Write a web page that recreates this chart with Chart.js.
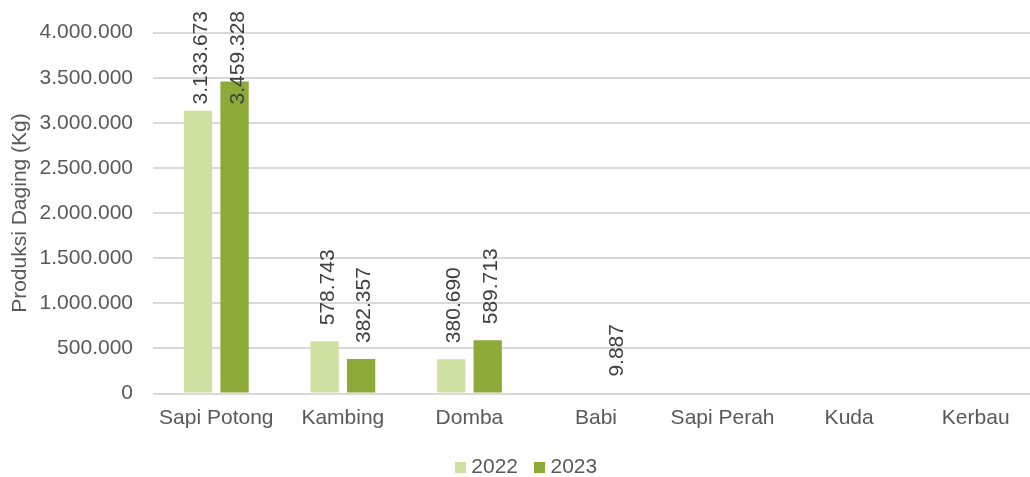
<!DOCTYPE html>
<html>
<head>
<meta charset="utf-8">
<script src="https://cdn.jsdelivr.net/npm/chart.js@4"></script>
<style>
  html, body { margin: 0; padding: 0; background: #ffffff; overflow: hidden; width: 1030px; height: 477px; }
  #wrap { position: absolute; left: 0; top: 0; width: 1055px; height: 488px; }
</style>
</head>
<body>
<div id="wrap"><canvas id="c" width="1055" height="488" style="width:1055px;height:488px"></canvas></div>
<script>
const categories = ['Sapi Potong', 'Kambing', 'Domba', 'Babi', 'Sapi Perah', 'Kuda', 'Kerbau'];
const seriesNames = ['2022', '2023'];
const values2022 = [3133673, 578743, 380690, null, null, null, null];
const values2023 = [3459328, 382357, 589713, 9887, null, null, null];
const yTicks = [0, 500000, 1000000, 1500000, 2000000, 2500000, 3000000, 3500000, 4000000];
const yTitle = 'Produksi Daging (Kg)';

const FONT = '"Liberation Sans", Arial, sans-serif';
const colors = ['#CFE1A0', '#8BAA38'];

function fmt(v) { return String(v).replace(/\B(?=(\d{3})+(?!\d))/g, '.'); }

function swatch(color) {
  const c = document.createElement('canvas');
  c.width = 11; c.height = 11;
  const g = c.getContext('2d');
  g.fillStyle = color; g.fillRect(0, 0, 11, 11);
  return c;
}
const swatches = colors.map(swatch);

const labelPlugin = {
  id: 'rotLabels',
  afterDatasetsDraw(chart) {
    const ctx = chart.ctx;
    ctx.save();
    ctx.font = '21px ' + FONT;
    ctx.fillStyle = '#404040';
    ctx.textAlign = 'left';
    ctx.textBaseline = 'alphabetic';
    chart.data.datasets.forEach((ds, i) => {
      const meta = chart.getDatasetMeta(i);
      meta.data.forEach((el, j) => {
        const v = ds.data[j];
        if (v === null || v === undefined) return;
        const txt = fmt(v);
        const w = ctx.measureText(txt).width;
        let start = el.y - 16;
        if (start - w < 11) start = 11 + w;
        ctx.save();
        ctx.translate(el.x + 9, start);
        ctx.rotate(-Math.PI / 2);
        ctx.fillText(txt, 0, 0);
        ctx.restore();
      });
    });
    ctx.restore();
  }
};

new Chart(document.getElementById('c'), {
  type: 'bar',
  data: {
    labels: categories,
    datasets: [
      { label: seriesNames[0], data: values2022, backgroundColor: colors[0], barPercentage: 0.775, categoryPercentage: 0.577 },
      { label: seriesNames[1], data: values2023, backgroundColor: colors[1], barPercentage: 0.775, categoryPercentage: 0.577 }
    ]
  },
  options: {
    responsive: false,
    animation: false,
    devicePixelRatio: 1,
    layout: { padding: { left: 18, right: 16, top: 31, bottom: 0 } },
    plugins: {
      legend: {
        position: 'bottom',
        labels: {
          usePointStyle: true,
          pointStyleWidth: 1,
          padding: 21,
          color: '#595959',
          font: { family: FONT, size: 21 },
          generateLabels(chart) {
            const items = Chart.defaults.plugins.legend.labels.generateLabels(chart);
            items.forEach((it, k) => { it.pointStyle = swatches[k]; });
            return items;
          }
        }
      },
      tooltip: { enabled: false }
    },
    scales: {
      x: {
        grid: { display: false, drawTicks: false },
        border: { display: false },
        ticks: { color: '#595959', font: { family: FONT, size: 21 }, padding: 12, maxRotation: 0, autoSkip: false },
        afterFit(s) { s.height = 42.5; }
      },
      y: {
        min: 0,
        max: 4000000,
        afterBuildTicks(s) { s.ticks = yTicks.map(v => ({ value: v })); },
        grid: { color: '#D9D9D9', lineWidth: 2, drawTicks: false },
        border: { display: false },
        ticks: { color: '#595959', font: { family: FONT, size: 21 }, padding: 20, callback: v => fmt(v) },
        title: { display: true, text: yTitle, color: '#595959', font: { family: FONT, size: 21 }, padding: { top: -10, bottom: 0 } },
        afterFit(s) { s.width = 135; }
      }
    }
  },
  plugins: [labelPlugin]
});
</script>
</body>
</html>
